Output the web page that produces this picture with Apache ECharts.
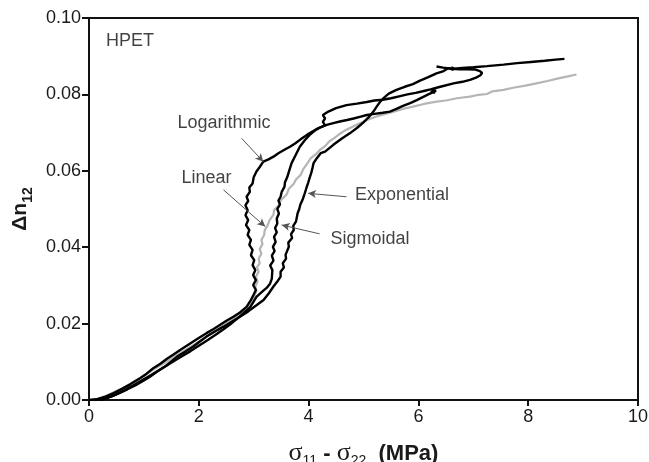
<!DOCTYPE html>
<html>
<head>
<meta charset="utf-8">
<style>
  html, body { margin: 0; padding: 0; background: #fff; }
  #chart { width: 649px; height: 462px; }
</style>
<script src="https://cdn.jsdelivr.net/npm/echarts@6/dist/echarts.min.js"></script>
</head>
<body>
<div id="chart"></div>
<script>
// Birefringence Δn12 against principal stress difference σ11 - σ22 for HPET
// under four deformation profiles.

const xTicks = [0, 2, 4, 6, 8, 10];
const yTicks = [0.00, 0.02, 0.04, 0.06, 0.08, 0.10];

const linear = [
  [0,0],[0.15,0.0003],[0.3,0.001],[0.45,0.002],[0.6,0.003],[0.75,0.0042],[0.9,0.0055],
  [1.05,0.0068],[1.2,0.0082],[1.35,0.0095],[1.5,0.0108],[1.65,0.0122],[1.8,0.0135],
  [1.95,0.0148],[2.1,0.0162],[2.25,0.0176],[2.4,0.019],[2.55,0.0205],[2.7,0.022],
  [2.82,0.0235],[2.93,0.0252],[3.0,0.0268],[3.05,0.0285],[3.03,0.0297],[3.07,0.031],
  [3.04,0.0323],[3.09,0.0336],[3.06,0.0348],[3.11,0.0358],[3.09,0.037],[3.14,0.0383],
  [3.11,0.0395],[3.16,0.0408],[3.14,0.0419],[3.19,0.0432],[3.2,0.0444],[3.25,0.0456],
  [3.29,0.0471],[3.36,0.0485],[3.37,0.0497],[3.46,0.051],[3.49,0.0522],[3.6,0.0538],
  [3.64,0.0553],[3.73,0.0566],[3.77,0.0577],[3.86,0.059],[3.9,0.0604],[3.98,0.062],
  [4.04,0.0633],[4.14,0.0644],[4.2,0.0654],[4.31,0.0666],[4.37,0.0676],[4.46,0.0685],
  [4.55,0.0695],[4.68,0.0707],[4.81,0.0716],[4.95,0.0726],[5.1,0.0735],[5.25,0.0743],
  [5.4,0.0749],[5.55,0.0755],[5.72,0.0762],[5.9,0.0768],[6.1,0.0775],[6.33,0.0781],
  [6.5,0.0784],[6.7,0.079],[6.94,0.0794],[7.1,0.0799],[7.25,0.0801],[7.35,0.0808],
  [7.55,0.0812],[7.75,0.0818],[7.95,0.0823],[8.15,0.0829],[8.35,0.0835],[8.55,0.0842],
  [8.72,0.0847],[8.88,0.0852]
];

const logarithmic = [
  [0,0],[0.15,0.0002],[0.3,0.0009],[0.45,0.0018],[0.6,0.0029],[0.75,0.0041],[0.93,0.0057],
  [1.05,0.0069],[1.17,0.0083],[1.3,0.0095],[1.42,0.0108],[1.54,0.0119],[1.66,0.0131],
  [1.78,0.0142],[1.9,0.0153],[2.02,0.0164],[2.14,0.0175],[2.27,0.0186],[2.39,0.0197],
  [2.51,0.0208],[2.63,0.0218],[2.75,0.0229],[2.87,0.0244],[2.95,0.0262],[3.0,0.0276],
  [3.04,0.0288],[2.99,0.0301],[3.04,0.0314],[2.99,0.0327],[3.03,0.034],[2.98,0.0353],
  [3.01,0.0366],[2.95,0.0379],[2.98,0.0393],[2.92,0.0406],[2.95,0.0419],[2.89,0.0432],
  [2.92,0.0445],[2.86,0.0458],[2.9,0.0471],[2.85,0.0484],[2.89,0.0497],[2.85,0.051],
  [2.9,0.0521],[2.87,0.0532],[2.93,0.0545],[2.92,0.0556],[2.98,0.0567],[3.0,0.0583],
  [3.05,0.0598],[3.11,0.061],[3.175,0.0624],[3.27,0.063],[3.36,0.0637],[3.45,0.0646],
  [3.56,0.0655],[3.66,0.0663],[3.76,0.0672],[3.86,0.0683],[3.97,0.0694],[4.07,0.0703],
  [4.17,0.0711],[4.3,0.0719],[4.26,0.0728],[4.3,0.0737],[4.26,0.0746],[4.36,0.0755],
  [4.5,0.0764],[4.69,0.0772],[4.88,0.0776],[5.06,0.078],[5.2,0.0784],[5.35,0.0786],
  [5.5,0.079],[5.65,0.0795],[5.8,0.08],[5.95,0.0804],[6.1,0.0809],[6.22,0.0813],
  [6.4,0.082],[6.64,0.0829],[6.8,0.0833],[6.94,0.0838],[7.05,0.0844],[7.13,0.085],
  [7.16,0.0856],[7.12,0.0861],[7.04,0.0865],[6.9,0.0866],[6.75,0.0866],[6.6,0.0867],
  [6.45,0.087],[6.33,0.0873]
];

const sigmoidal = [
  [0.2,0],[0.35,0.0006],[0.5,0.0015],[0.65,0.0026],[0.8,0.0038],[0.95,0.005],[1.1,0.0063],
  [1.25,0.0076],[1.4,0.0089],[1.55,0.0102],[1.7,0.0115],[1.85,0.0128],[2.0,0.0142],
  [2.15,0.0156],[2.3,0.017],[2.45,0.0185],[2.58,0.0199],[2.7,0.0213],[2.82,0.0228],
  [2.94,0.0244],[3.05,0.027],[3.15,0.0283],[3.24,0.0294],[3.3,0.0305],[3.33,0.0318],
  [3.34,0.034],[3.3,0.0352],[3.36,0.0365],[3.33,0.0378],[3.38,0.039],[3.35,0.0401],
  [3.4,0.0414],[3.37,0.0427],[3.42,0.0439],[3.39,0.045],[3.43,0.0462],[3.42,0.0475],
  [3.46,0.0488],[3.43,0.05],[3.48,0.0512],[3.45,0.0522],[3.49,0.0532],[3.51,0.0545],
  [3.56,0.0558],[3.57,0.057],[3.61,0.0583],[3.64,0.0597],[3.69,0.062],[3.76,0.064],
  [3.84,0.0663],[3.93,0.068],[4.02,0.0694],[4.12,0.0706],[4.22,0.0714],[4.33,0.072],
  [4.45,0.0725],[4.57,0.0729],[4.7,0.0733],[4.82,0.0737],[4.95,0.0742],[5.06,0.0746],
  [5.2,0.0749],[5.35,0.0752],[5.48,0.0755],[5.6,0.0762],[5.72,0.077],[5.85,0.0777],
  [5.97,0.0785],[6.08,0.0793],[6.18,0.08],[6.27,0.0806],[6.32,0.081],[6.25,0.0812],
  [6.3,0.0804],[6.22,0.0808]
];

const exponential = [
  [0.1,0],[0.25,0.0003],[0.4,0.0009],[0.55,0.0018],[0.7,0.0028],[0.85,0.0039],[1.0,0.0051],
  [1.11,0.0061],[1.25,0.0075],[1.4,0.0089],[1.6,0.0113],[1.75,0.0126],[1.9,0.014],
  [2.02,0.0153],[2.14,0.0166],[2.3,0.018],[2.45,0.0192],[2.6,0.0205],[2.75,0.0218],
  [2.9,0.0232],[3.05,0.0248],[3.18,0.0262],[3.28,0.028],[3.36,0.0297],[3.43,0.031],
  [3.49,0.0323],[3.49,0.0336],[3.55,0.0347],[3.53,0.0358],[3.59,0.037],[3.58,0.038],
  [3.64,0.0401],[3.63,0.0412],[3.7,0.0424],[3.68,0.0434],[3.73,0.0445],[3.72,0.0456],
  [3.77,0.0467],[3.8,0.0489],[3.83,0.05],[3.85,0.0512],[3.89,0.0524],[3.93,0.0541],
  [3.96,0.0555],[3.99,0.0568],[4.02,0.0582],[4.05,0.0595],[4.07,0.0607],[4.09,0.062],
  [4.15,0.0633],[4.22,0.0646],[4.3,0.065],[4.45,0.0668],[4.6,0.0684],[4.75,0.0698],
  [4.88,0.0712],[5.0,0.0727],[5.1,0.0741],[5.18,0.0755],[5.24,0.0768],[5.3,0.078],
  [5.37,0.0791],[5.46,0.0802],[5.6,0.0812],[5.75,0.082],[5.9,0.0827],[6.03,0.0836],
  [6.18,0.0845],[6.33,0.0855],[6.46,0.0861],[6.55,0.0869],[6.64,0.0864],[6.6,0.0871],
  [6.66,0.0867],[6.8,0.0869],[7.0,0.0871],[7.25,0.0874],[7.55,0.0878],[7.8,0.0882],
  [8.05,0.0885],[8.3,0.0888],[8.5,0.0891],[8.66,0.0893]
];

// Curve names and the point each name sits at
const labelNames = ['Logarithmic', 'Linear', 'Exponential', 'Sigmoidal'];
const labelX = [2.46, 2.14, 5.70, 5.12];
const labelY = [0.0725, 0.058, 0.0537, 0.0421];

// Pointer arrows from each name to its curve
const arrowFrom = [[2.78, 0.0685], [2.45, 0.055], [4.69, 0.0532], [4.2, 0.0435]];
const arrowTo = [[3.175, 0.0624], [3.21, 0.0454], [3.99, 0.0541], [3.51, 0.0458]];

const panelTitle = 'HPET';
const panelTitlePos = [0.31, 0.094];

const FONT = '"Liberation Sans", Arial, Helvetica, sans-serif';
const SERIF = '"Liberation Serif", "Times New Roman", serif';

const chart = echarts.init(document.getElementById('chart'), null, { renderer: 'canvas' });

function curve(name, data, color, width) {
  return {
    name, type: 'line', data, showSymbol: false, symbol: 'none',
    lineStyle: { color, width }, z: color === '#000' ? 3 : 2,
    silent: true
  };
}

chart.setOption({
  animation: false,
  backgroundColor: '#fff',
  grid: {
    left: 89, right: 11, top: 18, bottom: 62,
    outerBoundsMode: 'none', containLabel: false,
    show: true, borderColor: '#111', borderWidth: 2, backgroundColor: 'transparent'
  },
  xAxis: {
    type: 'value', min: xTicks[0], max: xTicks[xTicks.length - 1], interval: 2,
    axisLine: { show: true, onZero: false, lineStyle: { color: '#111', width: 2 } },
    axisTick: { show: true, inside: false, length: 6, lineStyle: { color: '#111', width: 2 } },
    splitLine: { show: false },
    axisLabel: { color: '#1a1a1a', fontSize: 18, fontFamily: FONT, margin: 8,
      formatter: v => String(v) },
    name: '{g|σ}{s|11}{b| - }{g|σ}{s|22}{b|  (MPa)}',
    nameLocation: 'middle', nameGap: 40,
    nameTextStyle: {
      rich: {
        g: { fontFamily: SERIF, fontSize: 26, color: '#1a1a1a', verticalAlign: 'top' },
        s: { fontFamily: FONT, fontSize: 14, color: '#1a1a1a', verticalAlign: 'top', padding: [14, 0, 0, 0] },
        b: { fontFamily: FONT, fontSize: 22, fontWeight: 'bold', color: '#1a1a1a', verticalAlign: 'top', padding: [3, 0, 0, 0] }
      }
    }
  },
  yAxis: {
    type: 'value', min: yTicks[0], max: yTicks[yTicks.length - 1], interval: 0.02,
    axisLine: { show: true, onZero: false, lineStyle: { color: '#111', width: 2 } },
    axisTick: { show: true, inside: false, length: 7, lineStyle: { color: '#111', width: 2 } },
    splitLine: { show: false },
    axisLabel: { color: '#1a1a1a', fontSize: 18, fontFamily: FONT, margin: 8,
      formatter: v => v.toFixed(2) },
    name: '{b|Δn}{s|12}',
    nameLocation: 'middle', nameGap: 53, nameRotate: 90,
    nameTextStyle: {
      rich: {
        b: { fontFamily: FONT, fontSize: 21, fontWeight: 'bold', color: '#1a1a1a', verticalAlign: 'top' },
        s: { fontFamily: FONT, fontSize: 14, fontWeight: 'bold', color: '#1a1a1a', verticalAlign: 'top', padding: [11, 0, 0, 0] }
      }
    }
  },
  series: [
    curve('Linear', linear, '#b5b5b5', 2.2),
    curve('Logarithmic', logarithmic, '#000', 2.4),
    curve('Sigmoidal', sigmoidal, '#000', 2.4),
    curve('Exponential', exponential, '#000', 2.4),
    {
      name: 'names', type: 'scatter', symbolSize: 0, silent: true, z: 5,
      data: labelNames.map((n, i) => ({ name: n, value: [labelX[i], labelY[i]] })),
      label: { show: true, position: 'inside', formatter: p => p.name,
        color: '#111', fontSize: 18, fontFamily: FONT },
      markLine: {
        silent: true, animation: false,
        symbol: ['none', 'arrow'], symbolSize: [6, 8],
        lineStyle: { color: '#555', width: 1, type: 'solid' },
        label: { show: false },
        data: arrowFrom.map((f, i) => [{ coord: f }, { coord: arrowTo[i] }])
      }
    },
    {
      name: 'panel', type: 'scatter', symbolSize: 0, silent: true, z: 5,
      data: [{ name: panelTitle, value: panelTitlePos }],
      label: { show: true, position: 'right', distance: 0, formatter: p => p.name,
        color: '#111', fontSize: 18, fontFamily: FONT }
    }
  ]
});
</script>
</body>
</html>
